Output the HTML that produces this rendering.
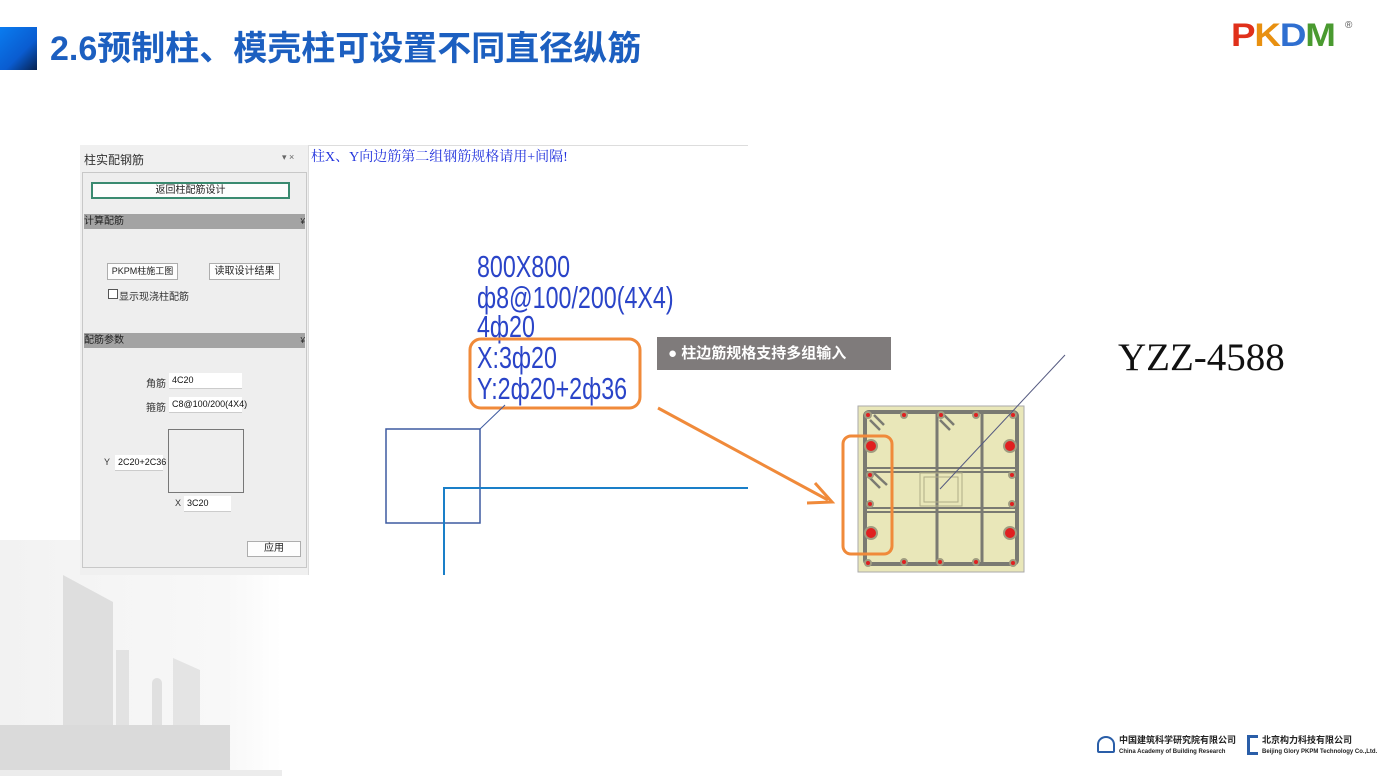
<!DOCTYPE html>
<html><head><meta charset="utf-8"><style>
body{margin:0;width:1382px;height:776px;overflow:hidden;background:#fff;position:relative;font-family:"Liberation Sans","Noto Sans CJK SC",sans-serif}
.a{position:absolute}
.cn{font-family:"Liberation Sans","Noto Sans CJK SC",sans-serif}
.btn{position:absolute;background:#fdfdfd;border:1px solid #adadad;font-size:10px;color:#222;text-align:center;box-sizing:border-box}
.inp{position:absolute;background:#fff;border-bottom:1px solid #ccc;font-size:9px;color:#111;box-sizing:border-box;padding-left:3px}
.lbl{position:absolute;font-size:10px;color:#333}
.cad{position:absolute;font-family:"Liberation Sans Narrow","Liberation Sans",sans-serif;color:#2a44c8;font-size:31px;line-height:31px;transform:scaleX(0.75);transform-origin:0 0;white-space:nowrap}
</style></head><body>

<!-- building background -->
<svg class="a" style="left:0;top:530px" width="290" height="246">
<defs><linearGradient id="bg" x1="0" y1="0" x2="1" y2="0"><stop offset="0" stop-color="#f2f2f2"/><stop offset="0.8" stop-color="#f8f8f8"/><stop offset="1" stop-color="#fff"/></linearGradient></defs>
<rect x="0" y="10" width="282" height="236" fill="url(#bg)"/>
<polygon points="63,45 113,72 113,200 63,200" fill="#dedede"/>
<rect x="116" y="120" width="13" height="80" fill="#e2e2e2"/>
<rect x="152" y="148" width="10" height="60" rx="5" fill="#e0e0e0"/>
<polygon points="173,128 200,140 200,200 173,200" fill="#e4e4e4"/>
<rect x="0" y="195" width="230" height="45" fill="#dadada"/>
<rect x="0" y="240" width="282" height="6" fill="#ececec"/>
</svg>

<!-- title -->
<div class="a" style="left:0;top:27px;width:37px;height:43px;background:linear-gradient(135deg,#0a7cf0,#0a5cd0 60%,#06214f)"></div>
<div class="a cn" style="left:50px;top:27px;font-size:34px;font-weight:bold;color:#1c5fc0;letter-spacing:0px;line-height:44px;white-space:nowrap">2.6预制柱、模壳柱可设置不同直径纵筋</div>

<!-- PKPM logo -->
<div class="a" style="left:1231px;top:18px;font-size:32px;font-weight:bold;letter-spacing:-1px;line-height:34px;transform:scaleX(1.15);transform-origin:0 0"><span style="color:#e0301a">P</span><span style="color:#e89010">K</span><span style="color:#2f6fd0">D</span><span style="color:#4a9a30">M</span></div>
<div class="a" style="left:1345px;top:20px;font-size:10px;color:#555">®</div>

<!-- panel -->
<div class="a" style="left:80px;top:145px;width:228px;height:430px;background:#f0f0f0"></div>
<div class="a cn" style="left:84px;top:151px;font-size:12px;color:#333">柱实配钢筋</div>
<div class="a" style="left:282px;top:152px;font-size:9px;color:#666">▾ ×</div>
<div class="a" style="left:82px;top:172px;width:223px;height:394px;border:1px solid #c8c8c8;background:#eeeeee"></div>
<div class="btn" style="left:91px;top:182px;width:199px;height:17px;border:2px solid #3a8a70;line-height:13px">返回柱配筋设计</div>
<div class="a" style="left:84px;top:214px;width:221px;height:15px;background:#a3a3a3;font-size:10px;color:#222;line-height:15px">计算配筋<span style="float:right;font-size:8px">¥</span></div>
<div class="btn" style="left:107px;top:263px;width:71px;height:17px;line-height:15px;font-size:9px">PKPM柱施工图</div>
<div class="btn" style="left:209px;top:263px;width:71px;height:17px;line-height:15px">读取设计结果</div>
<div class="a" style="left:108px;top:289px;width:8px;height:8px;border:1px solid #555;background:#fff"></div>
<div class="lbl" style="left:119px;top:288px">显示现浇柱配筋</div>
<div class="a" style="left:84px;top:333px;width:221px;height:15px;background:#a3a3a3;font-size:10px;color:#222;line-height:15px">配筋参数<span style="float:right;font-size:8px">¥</span></div>
<div class="lbl" style="left:146px;top:375px">角筋</div>
<div class="inp" style="left:169px;top:373px;width:73px;height:16px;line-height:15px">4C20</div>
<div class="lbl" style="left:146px;top:399px">箍筋</div>
<div class="inp" style="left:169px;top:397px;width:73px;height:16px;line-height:15px">C8@100/200(4X4)</div>
<div class="a" style="left:168px;top:429px;width:74px;height:62px;border:1px solid #777"></div>
<div class="lbl" style="left:104px;top:457px;font-size:9px">Y</div>
<div class="inp" style="left:115px;top:455px;width:48px;height:16px;line-height:15px">2C20+2C36</div>
<div class="lbl" style="left:175px;top:498px;font-size:9px">X</div>
<div class="inp" style="left:184px;top:496px;width:47px;height:16px;line-height:15px">3C20</div>
<div class="btn" style="left:247px;top:541px;width:54px;height:16px;line-height:14px">应用</div>

<!-- drawing area -->
<div class="a" style="left:308px;top:145px;width:440px;height:1px;background:#ddd"></div>
<div class="a" style="left:308px;top:145px;width:1px;height:430px;background:#ddd"></div>
<div class="a" style="left:311px;top:146px;font-family:'Liberation Serif','Noto Serif CJK SC',serif;font-size:14px;color:#2233dd">柱X、Y向边筋第二组钢筋规格请用+间隔!</div>

<div class="cad" style="left:477px;top:251px">800X800</div>
<div class="cad" style="left:477px;top:282px">ф8@100/200(4X4)</div>
<div class="cad" style="left:477px;top:311px">4ф20</div>
<div class="cad" style="left:477px;top:342px">X:3ф20</div>
<div class="cad" style="left:477px;top:373px">Y:2ф20+2ф36</div>

<svg class="a" style="left:0;top:0" width="1382" height="776">
<rect x="470" y="339" width="170" height="69" rx="11" fill="none" stroke="#f08a3a" stroke-width="3"/>
<rect x="386" y="429" width="94" height="94" fill="none" stroke="#3d5aa0" stroke-width="1.5"/>
<line x1="480" y1="429" x2="505" y2="405" stroke="#3d5aa0" stroke-width="1"/>
<polyline points="748,488 444,488 444,575" fill="none" stroke="#1a7fc8" stroke-width="2"/>
<line x1="658" y1="408" x2="828" y2="500" stroke="#f08a3a" stroke-width="3"/>
<polyline points="815,483 832,502 807,503" fill="none" stroke="#f08a3a" stroke-width="3"/>
<!-- column -->
<rect x="858" y="406" width="166" height="166" fill="#e9e7b9" stroke="#aaa" stroke-width="1"/>
<rect x="865" y="412" width="152" height="152" rx="4" fill="none" stroke="#7a7a72" stroke-width="4"/>
<line x1="937" y1="412" x2="937" y2="564" stroke="#7a7a72" stroke-width="3"/>
<line x1="982" y1="412" x2="982" y2="564" stroke="#7a7a72" stroke-width="3"/>
<line x1="865" y1="468" x2="1017" y2="468" stroke="#7a7a72" stroke-width="2"/>
<line x1="865" y1="472" x2="1017" y2="472" stroke="#7a7a72" stroke-width="2"/>
<line x1="865" y1="508" x2="1017" y2="508" stroke="#7a7a72" stroke-width="2"/>
<line x1="865" y1="512" x2="1017" y2="512" stroke="#7a7a72" stroke-width="2"/>
<rect x="920" y="473" width="42" height="33" fill="none" stroke="#b0ae88"/>
<rect x="924" y="477" width="34" height="25" fill="none" stroke="#b0ae88"/>
<g stroke="#7a7a72" stroke-width="2.5">
<line x1="870" y1="420" x2="880" y2="430"/><line x1="874" y1="415" x2="884" y2="425"/>
<line x1="940" y1="420" x2="950" y2="430"/><line x1="944" y1="415" x2="954" y2="425"/>
<line x1="870" y1="478" x2="880" y2="488"/><line x1="874" y1="473" x2="887" y2="485"/>
</g>
<g fill="#e02020" stroke="#a09c80" stroke-width="2">
<circle cx="868" cy="415" r="3"/><circle cx="904" cy="415" r="3"/><circle cx="941" cy="415" r="3"/><circle cx="976" cy="415" r="3"/><circle cx="1013" cy="415" r="3"/>
<circle cx="868" cy="563" r="3"/><circle cx="904" cy="562" r="3"/><circle cx="940" cy="562" r="3"/><circle cx="976" cy="562" r="3"/><circle cx="1013" cy="563" r="3"/>
<circle cx="870" cy="475" r="3"/><circle cx="870" cy="504" r="3"/><circle cx="1012" cy="475" r="3"/><circle cx="1012" cy="504" r="3"/>
<circle cx="871" cy="446" r="6"/><circle cx="871" cy="533" r="6"/><circle cx="1010" cy="446" r="6"/><circle cx="1010" cy="533" r="6"/>
</g>
<line x1="940" y1="489" x2="1065" y2="355" stroke="#555a80" stroke-width="1"/>
<rect x="843" y="436" width="49" height="118" rx="8" fill="none" stroke="#f08a3a" stroke-width="3"/>
</svg>

<div class="a cn" style="left:657px;top:337px;width:234px;height:33px;background:#7f7b7b;color:#fff;font-size:15px;font-weight:bold;line-height:33px;box-sizing:border-box;padding-left:11px">● 柱边筋规格支持多组输入</div>

<div class="a" style="left:1118px;top:336px;font-family:'Liberation Serif',serif;font-size:39px;color:#111;line-height:44px">YZZ-4588</div>

<!-- footer logos -->
<div class="a" style="left:1097px;top:736px;width:18px;height:17px;border:2px solid #2a5ea8;border-radius:50% 50% 2px 2px;box-sizing:border-box"></div>
<div class="a cn" style="left:1119px;top:735px;font-size:9px;color:#222;font-weight:bold;line-height:10px">中国建筑科学研究院有限公司<br><span style="font-size:6px">China Academy of Building Research</span></div>
<div class="a" style="left:1247px;top:735px;width:11px;height:20px;border:3px solid #2a5ea8;border-right:none;box-sizing:border-box"></div>
<div class="a cn" style="left:1262px;top:735px;font-size:9px;color:#222;font-weight:bold;line-height:10px">北京构力科技有限公司<br><span style="font-size:6px">Beijing Glory PKPM Technology Co.,Ltd.</span></div>
</body></html>
